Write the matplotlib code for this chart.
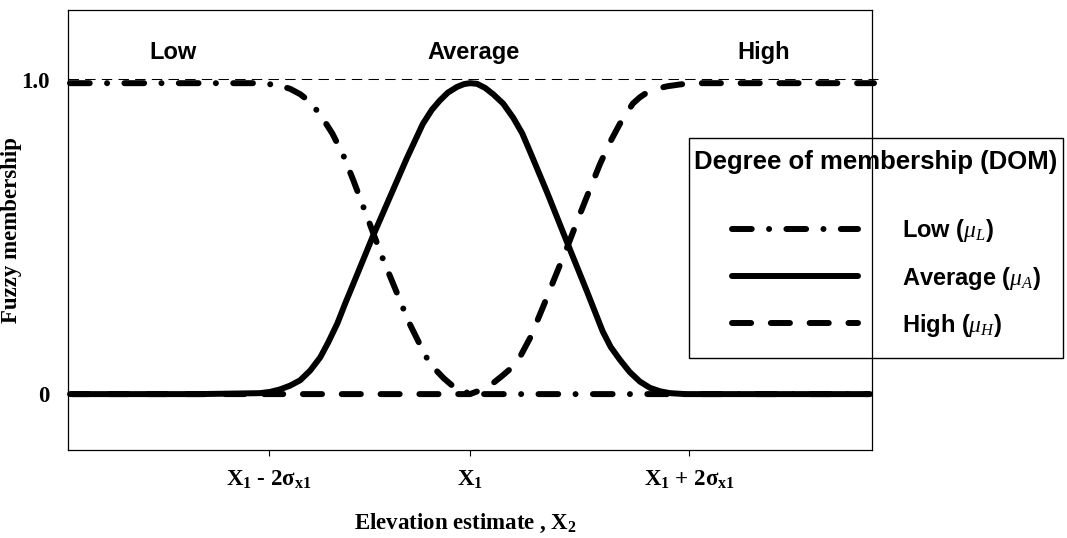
import matplotlib
matplotlib.use('Agg')
import matplotlib.pyplot as plt
from matplotlib.patches import Rectangle

plt.rcParams['mathtext.fontset'] = 'custom'
plt.rcParams['mathtext.rm'] = 'Liberation Serif:bold'
plt.rcParams['mathtext.bf'] = 'Liberation Serif:bold'
plt.rcParams['mathtext.it'] = 'Liberation Serif:italic'

# membership curves, x in plot units (X1 sits at 4)
low_x = [0.02, 1.86, 1.98, 2.11, 2.21, 2.31, 2.39, 2.46, 2.54, 2.63, 2.74, 2.84,
         2.94, 3.04, 3.14, 3.25, 3.39, 3.56, 3.65, 3.74, 3.82, 3.90, 4.00, 4.10, 7.98]
low_y = [0.99, 0.99, 0.988, 0.982, 0.972, 0.955, 0.935, 0.91, 0.875, 0.83, 0.76, 0.68,
         0.595, 0.51, 0.425, 0.34, 0.23, 0.12, 0.08, 0.05, 0.028, 0.012, 0.002, 0.0, 0.0]

avg_x = [0.04, 1.31, 1.91, 2.01, 2.11, 2.21, 2.31, 2.41, 2.51, 2.59, 2.68, 2.76,
         2.84, 3.03, 3.20, 3.37, 3.53, 3.62, 3.70, 3.78, 3.87, 3.94, 4.00, 4.07,
         4.15, 4.23, 4.33, 4.43, 4.52, 4.60, 4.77, 4.97, 5.16, 5.32, 5.40, 5.49,
         5.59, 5.69, 5.79, 5.89, 5.99, 6.14, 7.96]
avg_y = [0.0, 0.0, 0.003, 0.007, 0.015, 0.027, 0.044, 0.075, 0.117, 0.165, 0.225, 0.29,
         0.352, 0.50, 0.625, 0.75, 0.86, 0.905, 0.935, 0.96, 0.978, 0.987, 0.99, 0.988,
         0.975, 0.955, 0.925, 0.88, 0.83, 0.77, 0.64, 0.48, 0.33, 0.20, 0.15, 0.11,
         0.07, 0.04, 0.02, 0.009, 0.003, 0.0, 0.0]

high_x = [0.02, 4.00, 4.10, 4.23, 4.32, 4.40, 4.50, 4.60, 4.73, 4.83, 4.97, 5.09,
          5.19, 5.29, 5.39, 5.49, 5.56, 5.62, 5.69, 5.76, 5.86, 5.96, 6.09, 6.22, 8.02]
high_y = [0.0, 0.0, 0.012, 0.035, 0.058, 0.08, 0.12, 0.18, 0.28, 0.36, 0.47, 0.57,
          0.65, 0.73, 0.80, 0.86, 0.895, 0.925, 0.945, 0.96, 0.972, 0.98, 0.986, 0.99, 0.99]

tick_pos = [2.0, 4.0, 6.18]
tick_labels = ['X$_1$ - 2σ$_\\mathbf{x1}$', 'X$_1$', 'X$_1$ + 2σ$_\\mathbf{x1}$']
class_names = ['Low', 'Average', 'High']
class_pos = [1.045, 4.04, 6.92]

fig = plt.figure(figsize=(10.67, 5.38), dpi=100)
ax = fig.add_axes([68 / 1067, 88 / 538, 804 / 1067, 440 / 538])

lw = 4.3
ax.plot([0, 8.06], [1.003, 1.003], color='black', lw=0.75, ls=(0, (10, 6)), clip_on=False, zorder=1)
l_low, = ax.plot(low_x, low_y, color='black', lw=lw, ls=(0, (3.3, 2.9, 0.01, 2.9)),
                 dash_capstyle='round', solid_joinstyle='round', clip_on=False, zorder=2,
                 label='Low ($\\mu_L$)')
l_high, = ax.plot(high_x, high_y, color='black', lw=lw, ls=(0, (3.2, 3.3)),
                  dash_capstyle='round', clip_on=False, zorder=3, label='High ($\\mu_H$)')
l_avg, = ax.plot(avg_x, avg_y, color='black', lw=lw, solid_capstyle='round',
                 solid_joinstyle='round', clip_on=False, zorder=4, label='Average ($\\mu_A$)')

for name, xp in zip(class_names, class_pos):
    ax.text(xp, 1.089, name, ha='center', va='center', fontsize=17,
            fontweight='bold', family='Liberation Sans')

ax.set_xlim(0, 8)
ax.set_ylim(-0.178, 1.223)
ax.set_xticks(tick_pos)
ax.set_xticklabels(tick_labels, family='Liberation Serif', fontweight='bold', fontsize=16.5)
ax.set_yticks([0, 1.0])
ax.set_yticklabels(['0', '1.0'], family='Liberation Serif', fontweight='bold', fontsize=16.5)
ax.tick_params(axis='x', direction='out', length=4.5, width=0.8, pad=9)
ax.tick_params(axis='y', length=0, pad=13)
for sp in ax.spines.values():
    sp.set_linewidth(0.9)

ax.set_xlabel('Elevation estimate , X$_2$', family='Liberation Serif', fontweight='bold', fontsize=16.5)
ax.xaxis.set_label_coords(0.494, -0.14)
ax.set_ylabel('Fuzzy membership', family='Liberation Serif', fontweight='bold', fontsize=16.5)
ax.yaxis.set_label_coords(-46 / 804, 0.5)

# legend box sticking out past the right edge of the axes
fig.add_artist(Rectangle((689 / 1067, 180 / 538), 374 / 1067, 220 / 538,
                         transform=fig.transFigure, fill=False, lw=1.0, color='black'))
fig.text(876 / 1067, (538 - 162) / 538, 'Degree of membership (DOM)', ha='center', va='center',
         fontsize=18.5, fontweight='bold', family='Liberation Sans')
ax.legend(handles=[l_low, l_avg, l_high], frameon=False, loc='center left',
          bbox_to_anchor=(732 / 1067, (538 - 278) / 538), bbox_transform=fig.transFigure,
          borderpad=0, borderaxespad=0, handlelength=5.35, handletextpad=1.85,
          labelspacing=0.85, prop={'family': 'Liberation Sans', 'weight': 'bold', 'size': 17})

fig.savefig('out.png', dpi=100)
